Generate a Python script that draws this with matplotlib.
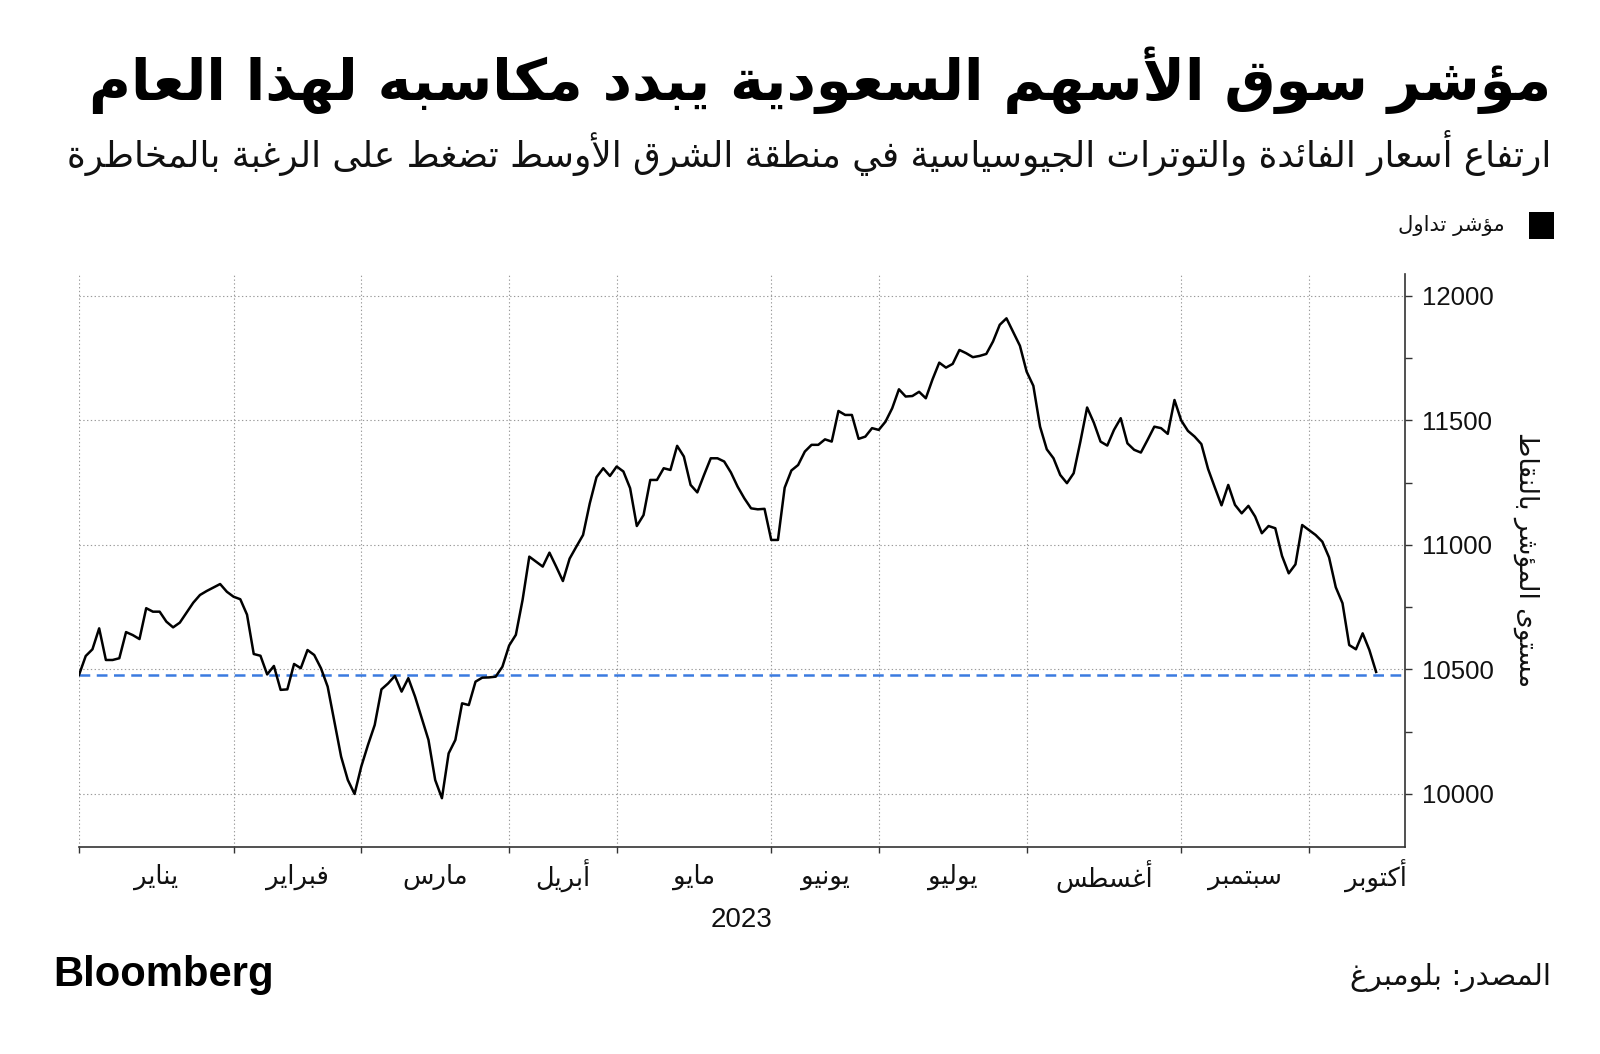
import matplotlib
matplotlib.use("Agg")
import matplotlib.pyplot as plt
from matplotlib.patches import Rectangle

# ---------------- data ----------------
values = [
    10478, 10554, 10581, 10665, 10538, 10538, 10545, 10650, 10638, 10622,
    10746, 10732, 10732, 10692, 10669, 10688, 10728, 10768, 10799, 10815,
    10829, 10843, 10812, 10792, 10782, 10720, 10562, 10555, 10480, 10514,
    10418, 10420, 10522, 10505, 10578, 10558, 10505, 10431, 10290, 10150,
    10056, 10000, 10110, 10197, 10277, 10420, 10444, 10474, 10411, 10465,
    10391, 10304, 10217, 10056, 9983, 10163, 10217, 10364, 10357, 10451,
    10467, 10468, 10471, 10511, 10596, 10639, 10779, 10953, 10933, 10913,
    10969, 10913, 10855, 10945, 10993, 11040, 11167, 11272, 11308, 11277,
    11315, 11295, 11228, 11076, 11120, 11261, 11261, 11308, 11301, 11398,
    11355, 11241, 11211, 11281, 11348, 11348, 11335, 11291, 11234, 11187,
    11147, 11143, 11145, 11020, 11020, 11230, 11299, 11321, 11375, 11402,
    11402, 11424, 11415, 11538, 11522, 11522, 11426, 11435, 11469, 11462,
    11495, 11549, 11625, 11596, 11598, 11615, 11589, 11665, 11732, 11712,
    11727, 11783, 11770, 11754, 11759, 11767, 11817, 11884, 11910, 11855,
    11800, 11696, 11639, 11475, 11384, 11348, 11281, 11248, 11288, 11415,
    11552, 11491, 11415, 11399, 11462, 11509, 11408, 11382, 11371, 11422,
    11475, 11469, 11446, 11582, 11500, 11458, 11435, 11405, 11305, 11231,
    11159, 11241, 11161, 11127, 11157, 11114, 11047, 11076, 11067, 10956,
    10886, 10922, 11080, 11060, 11040, 11013, 10950, 10830, 10766, 10598,
    10581, 10645, 10578, 10490,
]
month_starts = [0, 23, 42, 64, 80, 103, 119, 141, 164, 183]
month_labels = ["يناير", "فبراير", "مارس", "أبريل", "مايو", "يونيو",
                "يوليو", "أغسطس", "سبتمبر", "أكتوبر"]
y_ticks = [10000, 10500, 11000, 11500, 12000]
year_label = "2023"
title = "مؤشر سوق الأسهم السعودية يبدد مكاسبه لهذا العام"
subtitle = "ارتفاع أسعار الفائدة والتوترات الجيوسياسية في منطقة الشرق الأوسط تضغط على الرغبة بالمخاطرة"
legend_label = "مؤشر تداول"
y_label = "مستوى المؤشر بالنقاط"
source = "المصدر: بلومبرغ"
brand = "Bloomberg"

# ---------------- minimal Arabic shaping ----------------
FORMS = {
    'ا': ('\uFE8D', '\uFE8E'), 'أ': ('\uFE83', '\uFE84'), 'إ': ('\uFE87', '\uFE88'),
    'آ': ('\uFE81', '\uFE82'), 'ؤ': ('\uFE85', '\uFE86'),
    'ئ': ('\uFE89', '\uFE8A', '\uFE8B', '\uFE8C'),
    'ب': ('\uFE8F', '\uFE90', '\uFE91', '\uFE92'), 'ة': ('\uFE93', '\uFE94'),
    'ت': ('\uFE95', '\uFE96', '\uFE97', '\uFE98'), 'ث': ('\uFE99', '\uFE9A', '\uFE9B', '\uFE9C'),
    'ج': ('\uFE9D', '\uFE9E', '\uFE9F', '\uFEA0'), 'ح': ('\uFEA1', '\uFEA2', '\uFEA3', '\uFEA4'),
    'خ': ('\uFEA5', '\uFEA6', '\uFEA7', '\uFEA8'), 'د': ('\uFEA9', '\uFEAA'),
    'ذ': ('\uFEAB', '\uFEAC'), 'ر': ('\uFEAD', '\uFEAE'), 'ز': ('\uFEAF', '\uFEB0'),
    'س': ('\uFEB1', '\uFEB2', '\uFEB3', '\uFEB4'), 'ش': ('\uFEB5', '\uFEB6', '\uFEB7', '\uFEB8'),
    'ص': ('\uFEB9', '\uFEBA', '\uFEBB', '\uFEBC'), 'ض': ('\uFEBD', '\uFEBE', '\uFEBF', '\uFEC0'),
    'ط': ('\uFEC1', '\uFEC2', '\uFEC3', '\uFEC4'), 'ظ': ('\uFEC5', '\uFEC6', '\uFEC7', '\uFEC8'),
    'ع': ('\uFEC9', '\uFECA', '\uFECB', '\uFECC'), 'غ': ('\uFECD', '\uFECE', '\uFECF', '\uFED0'),
    'ف': ('\uFED1', '\uFED2', '\uFED3', '\uFED4'), 'ق': ('\uFED5', '\uFED6', '\uFED7', '\uFED8'),
    'ك': ('\uFED9', '\uFEDA', '\uFEDB', '\uFEDC'), 'ل': ('\uFEDD', '\uFEDE', '\uFEDF', '\uFEE0'),
    'م': ('\uFEE1', '\uFEE2', '\uFEE3', '\uFEE4'), 'ن': ('\uFEE5', '\uFEE6', '\uFEE7', '\uFEE8'),
    'ه': ('\uFEE9', '\uFEEA', '\uFEEB', '\uFEEC'), 'و': ('\uFEED', '\uFEEE'),
    'ى': ('\uFEEF', '\uFEF0'), 'ي': ('\uFEF1', '\uFEF2', '\uFEF3', '\uFEF4'),
}
LAMALEF = {'آ': ('\uFEF5', '\uFEF6'), 'أ': ('\uFEF7', '\uFEF8'),
           'إ': ('\uFEF9', '\uFEFA'), 'ا': ('\uFEFB', '\uFEFC')}


def ar(text):
    chars = list(text)
    n = len(chars)
    out = []
    i = 0
    dual = lambda c: c in FORMS and len(FORMS[c]) == 4
    while i < n:
        c = chars[i]
        if c not in FORMS:
            out.append(c)
            i += 1
            continue
        prev = chars[i - 1] if i > 0 else None
        jp = prev is not None and dual(prev)
        if c == 'ل' and i + 1 < n and chars[i + 1] in LAMALEF:
            lig = LAMALEF[chars[i + 1]]
            out.append(lig[1] if jp else lig[0])
            i += 2
            continue
        nxt = chars[i + 1] if i + 1 < n else None
        jn = dual(c) and nxt is not None and nxt in FORMS
        f = FORMS[c]
        if jp and jn:
            g = f[3]
        elif jp:
            g = f[1]
        elif jn:
            g = f[2]
        else:
            g = f[0]
        out.append(g)
        i += 1
    return ''.join(out)[::-1]


# ---------------- figure ----------------
W, H = 1600, 1054
fig = plt.figure(figsize=(W / 100, H / 100), dpi=100)
fig.patch.set_facecolor("white")

def fx(px):
    return px / W

def fy(py):
    return 1 - py / H

AR = ["DejaVu Sans"]
LAT = ["Liberation Sans", "DejaVu Sans"]

ax = fig.add_axes([fx(79), fy(847), fx(1405) - fx(79), fy(274) - fy(847)])
x = list(range(len(values)))
base = values[0]
ax.axhline(base, color="#3b7be0", lw=1.8, dashes=(4.3, 2.6), zorder=2)
ax.plot(x, values, color="black", lw=1.8, zorder=3, solid_joinstyle="round")

ax.set_xlim(0, 197.3)
ax.set_ylim(9787, 12088)

ax.yaxis.tick_right()
ax.set_yticks(y_ticks)
ax.set_yticks([10250, 10750, 11250, 11750], minor=True)
ax.set_yticklabels([str(v) for v in y_ticks], family=LAT, fontsize=18.5, color="#111111")
ax.tick_params(axis="y", which="both", direction="out", length=5, width=1,
               color="#333333", pad=7, left=False, right=True)
ax.set_xticks(month_starts)
ax.set_xticklabels([])
ax.tick_params(axis="x", which="major", direction="out", length=4, width=1, color="#333333")

for s in ["top", "left"]:
    ax.spines[s].set_visible(False)
for s in ["bottom", "right"]:
    ax.spines[s].set_color("#333333")
    ax.spines[s].set_linewidth(1.2)

ax.grid(True, which="major", color="#9a9a9a", lw=0.8, linestyle=(0, (1.2, 2.2)))
ax.set_axisbelow(True)

# month labels centred in each month span
xt = ax.get_xaxis_transform()
for k, lab in enumerate(month_labels):
    if k + 1 < len(month_starts):
        pos = (month_starts[k] + month_starts[k + 1]) / 2
    else:
        pos = 193.0
    ax.text(pos, -0.052, ar(lab), transform=xt, ha="center", va="center",
            family=AR, fontsize=18.5, color="#111111")
ax.text(0.5, -0.128, year_label, transform=ax.transAxes, ha="center", va="center",
        family=LAT, fontsize=20, color="#111111")

# ---------------- texts ----------------
r = fig.canvas.get_renderer()

def fit(t, width):
    w = t.get_window_extent(r).width
    t.set_fontsize(t.get_fontsize() * width / w)

t_title = fig.text(fx(1551), fy(80), ar(title), ha="right", va="center",
                   family=AR, fontweight="bold", fontsize=40, color="black")
fit(t_title, 1461)
t_sub = fig.text(fx(1551), fy(153), ar(subtitle), ha="right", va="center",
                 family=AR, fontsize=24, color="#111111")
fit(t_sub, 1495)

fig.patches.append(Rectangle((fx(1529), fy(239)), fx(25), fy(212) - fy(239),
                             transform=fig.transFigure, facecolor="black",
                             edgecolor="none"))
t_leg = fig.text(fx(1505), fy(225), ar(legend_label), ha="right", va="center",
                 family=AR, fontsize=15, color="#111111")
fit(t_leg, 107)

t_yl = fig.text(fx(1526), fy(560), ar(y_label), ha="center", va="center",
                rotation=270, family=AR, fontsize=19, color="#111111")

t_src = fig.text(fx(1551), fy(978), ar(source), ha="right", va="center",
                 family=AR, fontsize=20, color="#111111")
fit(t_src, 201)

t_brand = fig.text(fx(53), fy(975), brand, ha="left", va="center",
                   family=["Liberation Sans", "DejaVu Sans"],
                   fontweight="bold", fontsize=30, color="black")
fit(t_brand, 220)

fig.savefig("out.png", dpi=100, facecolor="white")
